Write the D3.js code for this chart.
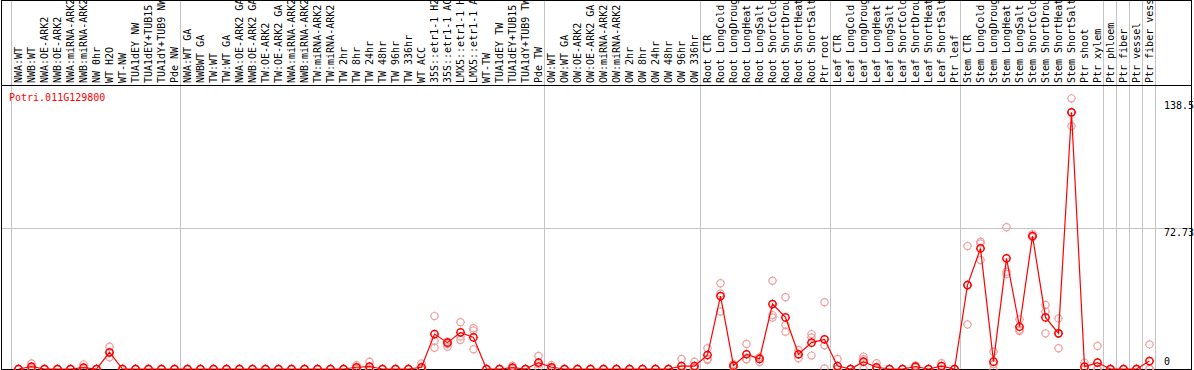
<!DOCTYPE html>
<html>
<head>
<meta charset="utf-8">
<script src="https://cdn.jsdelivr.net/npm/d3@7"></script>
<style>
  body { margin: 0; background: #fff; }
  svg { display: block; }
  text { font-family: "DejaVu Sans Mono", monospace; font-size: 10px; }
</style>
</head>
<body>
<svg id="chart"></svg>
<script>
// sample names, one per column
var labels = [
  'NWA:WT', 'NWB:WT', 'NWA:OE-ARK2', 'NWB:OE-ARK2', 'NWA:miRNA-ARK2', 'NWB:miRNA-ARK2',
  'NW 0hr', 'WT H2O', 'WT-NW', 'TUA1dEY NW', 'TUA1dEY+TUB15', 'TUA1dY+TUB9 NW', 'Pde NW',
  'NWA:WT GA', 'NWBWT GA', 'TW:WT', 'TW:WT GA', 'NWA:OE-ARK2 GA', 'NWB:OE-ARK2 GA',
  'TW:OE-ARK2', 'TW:OE-ARK2 GA', 'NWA:miRNA-ARK2', 'NWB:miRNA-ARK2', 'TW:miRNA-ARK2',
  'TW:miRNA-ARK2', 'TW 2hr', 'TW 8hr', 'TW 24hr', 'TW 48hr', 'TW 96hr', 'TW 336hr',
  'WT ACC', '35S::etr1-1 H2O', '35S::etr1-1 ACC', 'LMX5::etr1-1 H2O', 'LMX5::etr1-1 ACC',
  'WT-TW', 'TUA1dEY TW', 'TUA1dEY+TUB15', 'TUA1dY+TUB9 TW', 'Pde TW',
  'OW:WT', 'OW:WT GA', 'OW:OE-ARK2', 'OW:OE-ARK2 GA', 'OW:miRNA-ARK2', 'OW:miRNA-ARK2',
  'OW 2hr', 'OW 8hr', 'OW 24hr', 'OW 48hr', 'OW 96hr', 'OW 336hr',
  'Root CTR', 'Root LongCold', 'Root LongDrought', 'Root LongHeat', 'Root LongSalt',
  'Root ShortCold', 'Root ShortDrought', 'Root ShortHeat', 'Root ShortSalt', 'Ptr root',
  'Leaf CTR', 'Leaf LongCold', 'Leaf LongDrought', 'Leaf LongHeat', 'Leaf LongSalt',
  'Leaf ShortCold', 'Leaf ShortDrought', 'Leaf ShortHeat', 'Leaf ShortSalt', 'Ptr leaf',
  'Stem CTR', 'Stem LongCold', 'Stem LongDrought', 'Stem LongHeat', 'Stem LongSalt',
  'Stem ShortCold', 'Stem ShortDrought', 'Stem ShortHeat', 'Stem ShortSalt',
  'Ptr shoot', 'Ptr xylem', 'Ptr phloem', 'Ptr fiber', 'Ptr vessel', 'Ptr fiber vessel'
];

// mean expression per sample
var means = [
  0, 1.2, 0, 0, 0, 0.7, 0, 8.6, 0, 0, 0, 0, 0,
  0, 0, 0, 0, 0, 0, 0, 0, 0, 0, 0, 0, 0, 0.9, 1.2, 0, 0, 0,
  0.9, 18.0, 13.6, 18.9, 16.3, 0, 0, 0.7, 0, 3.3,
  0.9, 0, 0, 0, 0, 0, 0, 0, 0, 0, 1.5, 1.5,
  7.2, 37.6, 1.7, 7.6, 5.2, 33.5, 26.6, 7.6, 13.6, 15.3,
  1.5, 0, 3.8, 0.9, 0, 0, 1.2, 0, 1.5, 0,
  43.3, 62.2, 3.8, 57.1, 21.8, 68.6, 26.6, 18.4, 132.4, 1.2, 3.3,
  0, 0, 0, 4.1
];

// replicate values per sample
var replicates = [
  [0, 0, 0], [2.9, 0.5, 0.3], [0, 0, 0], [0, 0, 0], [0, 0, 0], [2.4, 0, 0], [0, 0, 0],
  [11.5, 6.0, 8.2], [0, 0, 0], [0, 0, 0], [0, 0, 0], [0, 0, 0], [0, 0, 0],
  [0, 0, 0], [0, 0, 0], [0, 0, 0], [0, 0, 0], [0, 0, 0], [0, 0, 0], [0, 0, 0], [0, 0, 0],
  [0, 0, 0], [0, 0, 0], [0, 0, 0], [0, 0, 0], [0, 0, 0], [2.0, 0.5, 0], [3.8, 0, 0],
  [0, 0, 0], [0, 0, 0], [0, 0, 0],
  [2.9, 0, 0], [27.3, 14.4, 11.0], [14.1, 12.9, 11.5], [24.1, 16.7, 15.0], [21.0, 19.8, 10.2],
  [0, 0, 0], [0, 0, 0], [1.7, 0.3, 0], [0, 0, 0], [6.7, 2.5, 0.8],
  [2.0, 0.5, 0], [0, 0, 0], [0, 0, 0], [0, 0, 0], [0, 0, 0], [0, 0, 0], [0, 0, 0], [0, 0, 0],
  [0, 0, 0], [0, 0, 0], [5.2, 0, 0], [3.8, 0.5, 0],
  [10.7, 5.2, 4.6], [44.2, 39.0, 29.6], [1.2, 2.5, 1.4], [12.9, 5.0, 5.0], [3.6, 6.0, 6.0],
  [45.5, 27.8, 26.6], [37.0, 22.7, 19.2], [9.8, 5.5, 7.5], [18.0, 16.3, 6.9], [34.4, 12.2, 0.3],
  [5.2, 0, 0], [0, 0, 0], [6.4, 5.0, 0], [3.0, 0, 0], [0, 0, 0], [0, 0, 0], [1.8, 1.2, 0.6],
  [0, 0, 0], [3.0, 1.5, 0], [0, 0, 0],
  [63.4, 43.3, 23.0], [65.7, 64.8, 56.2], [8.9, 2.5, 0], [73.1, 50.2, 49.0], [25.6, 19.6, 20.2],
  [69.5, 68.0, 68.3], [33.0, 29.6, 18.4], [26.1, 18.4, 10.7], [139.6, 132.4, 125.3],
  [3.3, 0, 0], [11.9, 0, 0],
  [0, 0, 0], [0, 0, 0], [0, 0, 0], [12.7, 0, 0]
];

// column index where each group starts (last = end)
var groupEdges = [0, 13, 41, 53, 63, 73, 84, 85, 86, 87, 88];
var valueTicks = [0, 72.73, 138.5];
var gridTicks = [72.73];
var geneName = 'Potri.011G129800';

var width = 1194;
var height = 370;

var svg = d3.select('#chart')
  .attr('width', width)
  .attr('height', height);

var n = labels.length;
var x = d3.scaleBand()
  .domain(d3.range(n))
  .range([11, 11 + 13 * n]);

var y = d3.scaleLinear()
  .domain([0, 138.5])
  .range([369, 100.5]);

function edge(b) {
  return b < n ? x(b) : x.range()[1];
}
function cx(i) {
  return x(i) + 7.5;
}

// vertical group lines
svg.selectAll('.vgrid')
  .data(groupEdges)
  .enter().append('line')
  .attr('x1', function(d) { return Math.round(edge(d)) + 0.5; })
  .attr('x2', function(d) { return Math.round(edge(d)) + 0.5; })
  .attr('y1', 0)
  .attr('y2', 369)
  .attr('stroke', '#c4c4c4')
  .attr('stroke-width', 1);

// horizontal grid
svg.selectAll('.hgrid')
  .data(gridTicks)
  .enter().append('line')
  .attr('x1', 1)
  .attr('x2', 1192)
  .attr('y1', function(d) { return Math.round(y(d)) + 0.5; })
  .attr('y2', function(d) { return Math.round(y(d)) + 0.5; })
  .attr('stroke', '#c4c4c4');

// frame
svg.append('rect')
  .attr('x', 1.5).attr('y', 0.5)
  .attr('width', 1190).attr('height', 369)
  .attr('fill', 'none')
  .attr('stroke', '#000');

svg.append('line')
  .attr('x1', 1).attr('x2', 1192)
  .attr('y1', 85.5).attr('y2', 85.5)
  .attr('stroke', '#000');

// sample labels
svg.selectAll('.lab')
  .data(labels)
  .enter().append('text')
  .attr('transform', function(d, i) { return 'translate(' + cx(i) + ',83) rotate(-90)'; })
  .attr('dy', '0.35em')
  .attr('fill', '#000')
  .text(function(d) { return d; });

// gene name
svg.append('text')
  .attr('x', 9)
  .attr('y', 101)
  .attr('fill', '#ff0000')
  .text(geneName);

// value labels
svg.selectAll('.vlab')
  .data(valueTicks)
  .enter().append('text')
  .attr('x', 1164)
  .attr('y', function(d) { return d === 0 ? y(d) - 4 : y(d) + 8; })
  .attr('fill', '#000')
  .text(function(d) { return d; });

function marker(g, px, py, color, sw) {
  var r = 3.6;
  g.append('circle')
    .attr('cx', px).attr('cy', py).attr('r', r)
    .attr('fill', 'none')
    .attr('stroke', color)
    .attr('stroke-width', sw);
  g.append('path')
    .attr('d', 'M' + px + ',' + (py - r - 1) + 'V' + (py - r) +
      'M' + px + ',' + (py + r) + 'V' + (py + r + 1) +
      'M' + (px - r - 1) + ',' + py + 'H' + (px - r) +
      'M' + (px + r) + ',' + py + 'H' + (px + r + 1))
    .attr('stroke', color)
    .attr('stroke-width', 1);
}

// replicate points
var repG = svg.append('g');
replicates.forEach(function(vals, i) {
  vals.forEach(function(v) {
    marker(repG, cx(i), y(v), '#f0a0a0', 1.2);
  });
});

// mean line
var line = d3.line()
  .x(function(d, i) { return cx(i); })
  .y(function(d) { return y(d); });

svg.append('path')
  .datum(means)
  .attr('d', line)
  .attr('fill', 'none')
  .attr('stroke', '#ff0000')
  .attr('stroke-width', 1.2);

var meanG = svg.append('g');
means.forEach(function(v, i) {
  marker(meanG, cx(i), y(v), '#ff0000', 1.5);
});
</script>
</body>
</html>
